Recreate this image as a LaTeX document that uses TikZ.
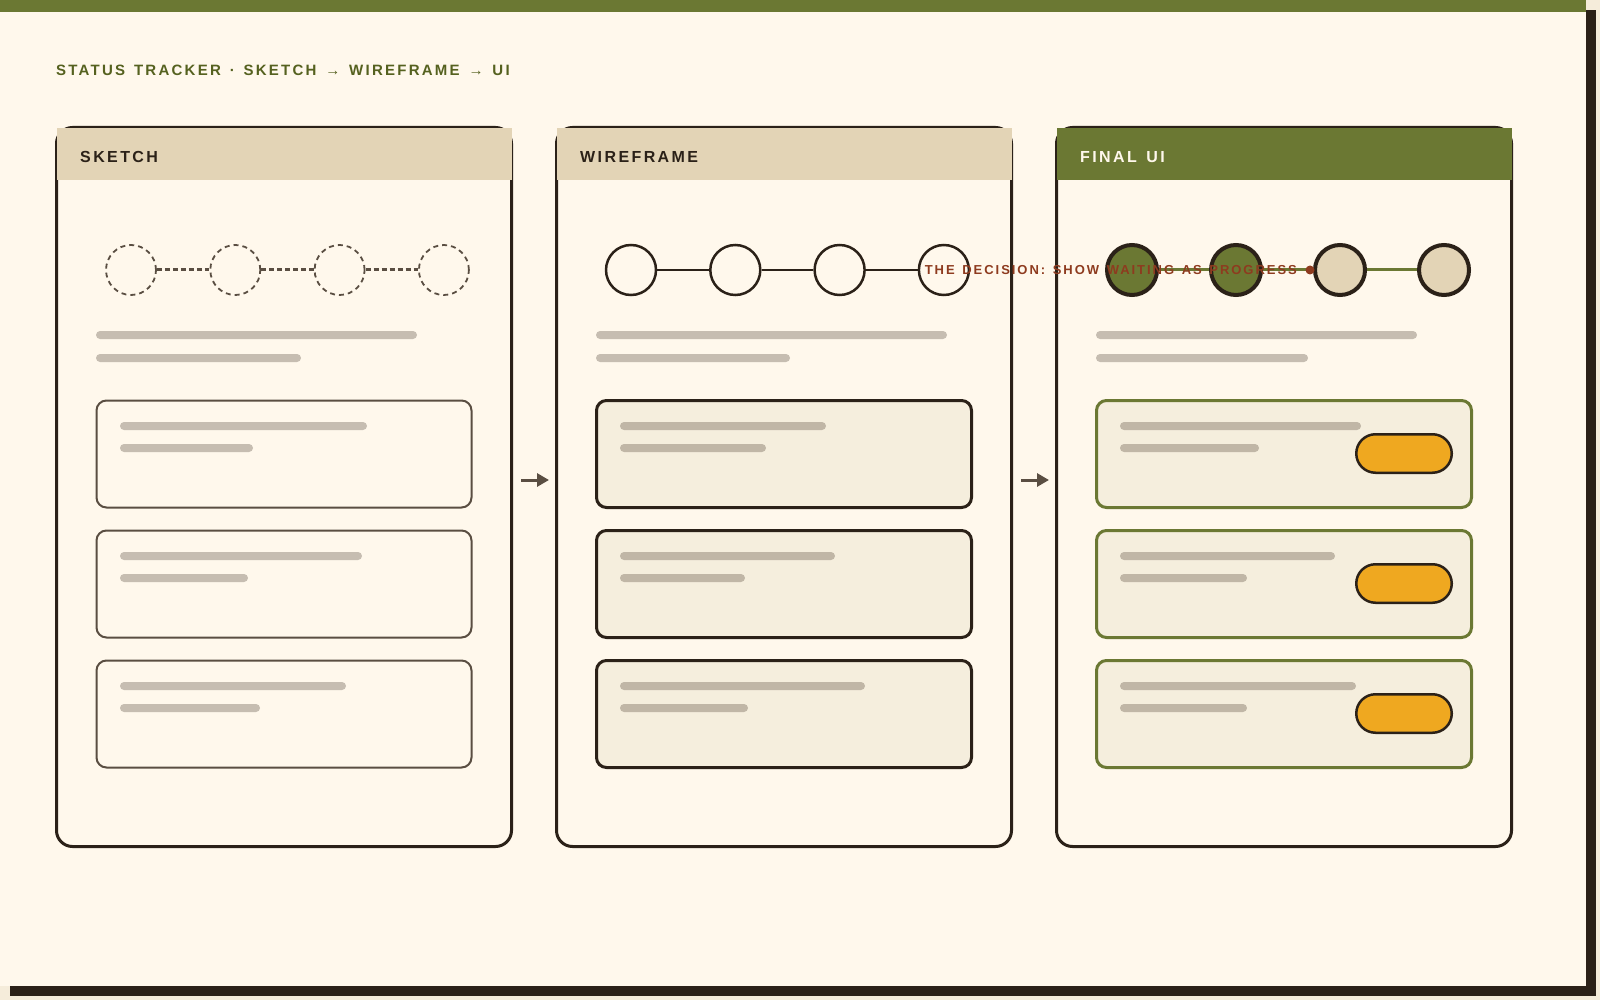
\documentclass[tikz,border=0pt]{standalone}
\usepackage{fontspec}
\setmainfont{Liberation Sans}
\newfontfamily\trackfont[LetterSpace=15, WordSpace=1.38]{Liberation Sans}
\usetikzlibrary{arrows.meta}

\definecolor{outer}{HTML}{F5ECDA}
\definecolor{paper}{HTML}{FFF8EC}
\definecolor{ink}{HTML}{2B2118}
\definecolor{olive}{HTML}{6B7833}
\definecolor{sand}{HTML}{E3D4B6}
\definecolor{pencil}{HTML}{5A4E42}
\definecolor{barc}{HTML}{C6BDB1}
\definecolor{barb}{HTML}{C0B6A6}
\definecolor{boxfill}{HTML}{F5EEDD}
\definecolor{amber}{HTML}{EFA820}
\definecolor{rust}{HTML}{8E3B1F}
\definecolor{titlecol}{HTML}{55611F}

\begin{document}
\begin{tikzpicture}[x=1pt,y=-1pt,
    card/.style={draw=ink, line width=3pt, fill=paper, rounded corners=16pt, outer sep=0pt, minimum width=455pt, minimum height=719pt},
    headtxt/.style={anchor=base west, inner sep=0pt, font=\trackfont\bfseries\fontsize{16}{19}\selectfont, text=ink},
    bar/.style={fill=barc, rounded corners=4pt},
    inbar/.style={fill=barb, rounded corners=4pt},
    skdot/.style={circle, minimum size=50pt, inner sep=0pt, draw=pencil, line width=1.8pt, dash pattern=on 5pt off 4pt},
    wfdot/.style={circle, minimum size=50pt, inner sep=0pt, draw=ink, line width=2.5pt, fill=paper},
    uidot/.style={circle, minimum size=50pt, inner sep=0pt, draw=ink, line width=4pt},
    skbox/.style={draw=pencil, line width=2pt, rounded corners=10pt},
    wfbox/.style={draw=ink, line width=3pt, fill=boxfill, rounded corners=10pt},
    uibox/.style={draw=olive, line width=3pt, fill=boxfill, rounded corners=10pt},
    pill/.style={draw=ink, line width=2.5pt, fill=amber, rounded corners=19.25pt},
    flow/.style={draw=pencil, line width=3pt, -{Triangle[length=12pt,width=13pt]}}]

    \useasboundingbox (0,0) rectangle (1600,1000);
    \fill[outer] (0,0) rectangle (1600,1000);
    \fill[ink] (10,10) rectangle (1596,996);
    \fill[paper] (0,0) rectangle (1586,986);
    \fill[olive] (0,0) rectangle (1586,12);

    \node[anchor=base west, inner sep=0pt, font=\trackfont\bfseries\fontsize{15}{18}\selectfont, text=titlecol] (title) at (56,76) {STATUS TRACKER · SKETCH → WIREFRAME → UI};

    % three cards
    \node[card] (sketch) at (284,487) {};
    \node[card] (wire) at (784,487) {};
    \node[card] (final) at (1284,487) {};

    \fill[sand] ([shift={(0,0.5)}]sketch.north west) rectangle ([shift={(0,52.5)}]sketch.north east);
    \fill[sand] ([shift={(0,0.5)}]wire.north west) rectangle ([shift={(0,52.5)}]wire.north east);
    \fill[olive] ([shift={(0,0.5)}]final.north west) rectangle ([shift={(0,52.5)}]final.north east);

    \node[headtxt] at ([shift={(23.5,35.5)}]sketch.north west) {SKETCH};
    \node[headtxt] at ([shift={(23.5,35.5)}]wire.north west) {WIREFRAME};
    \node[headtxt, text=paper] at ([shift={(23.5,35.5)}]final.north west) {FINAL UI};

    \draw[flow] ([shift={(9.5,-7)}]sketch.east) -- ([shift={(-7.5,-7)}]wire.west);
    \draw[flow] ([shift={(9.5,-7)}]wire.east) -- ([shift={(-7.5,-7)}]final.west);

    % sketch
    \foreach \i in {1,...,4}
        \node[skdot] (s\i) at ({131+104.3*(\i-1)},270) {};
    \draw[pencil, line width=3pt, dash pattern=on 5pt off 3pt] (s1) -- (s2);
    \draw[pencil, line width=3pt, dash pattern=on 5pt off 3pt] (s2) -- (s3);
    \draw[pencil, line width=3pt, dash pattern=on 5pt off 3pt] (s3) -- (s4);
    \fill[bar] (96,331) rectangle +(321,8);
    \fill[bar] (96,354) rectangle +(205,8);
    \draw[skbox] (96.5,400.5) rectangle (471.5,507.5);
    \draw[skbox] (96.5,530.5) rectangle (471.5,637.5);
    \draw[skbox] (96.5,660.5) rectangle (471.5,767.5);
    \fill[bar] (120,422) rectangle +(247,8);
    \fill[bar] (120,444) rectangle +(133,8);
    \fill[bar] (120,552) rectangle +(242,8);
    \fill[bar] (120,574) rectangle +(128,8);
    \fill[bar] (120,682) rectangle +(226,8);
    \fill[bar] (120,704) rectangle +(140,8);

    % wireframe
    \foreach \i in {1,...,4}
        \node[wfdot] (w\i) at ({631+104.3*(\i-1)},270) {};
    \draw[ink, line width=2.8pt] (w1) -- (w2);
    \draw[ink, line width=2.8pt] (w2) -- (w3);
    \draw[ink, line width=2.8pt] (w3) -- (w4);
    \fill[bar] (596,331) rectangle +(351,8);
    \fill[bar] (596,354) rectangle +(194,8);
    \draw[wfbox] (596.5,400.5) rectangle (971.5,507.5);
    \draw[wfbox] (596.5,530.5) rectangle (971.5,637.5);
    \draw[wfbox] (596.5,660.5) rectangle (971.5,767.5);
    \fill[inbar] (620,422) rectangle +(206,8);
    \fill[inbar] (620,444) rectangle +(146,8);
    \fill[inbar] (620,552) rectangle +(215,8);
    \fill[inbar] (620,574) rectangle +(125,8);
    \fill[inbar] (620,682) rectangle +(245,8);
    \fill[inbar] (620,704) rectangle +(128,8);

    % final ui
    \node[uidot, fill=olive] (u1) at (1132,270) {};
    \node[uidot, fill=olive] (u2) at (1236,270) {};
    \node[uidot, fill=sand] (u3) at (1340,270) {};
    \node[uidot, fill=sand] (u4) at (1444,270) {};
    \draw[olive, line width=3pt] (u1) -- (u2);
    \draw[olive, line width=3pt] (u2) -- (u3);
    \draw[olive, line width=3pt] (u3) -- (u4);
    \fill[bar] (1096,331) rectangle +(321,8);
    \fill[bar] (1096,354) rectangle +(212,8);
    \draw[uibox] (1096.5,400.5) rectangle (1471.5,507.5);
    \draw[uibox] (1096.5,530.5) rectangle (1471.5,637.5);
    \draw[uibox] (1096.5,660.5) rectangle (1471.5,767.5);
    \fill[inbar] (1120,422) rectangle +(241,8);
    \fill[inbar] (1120,444) rectangle +(139,8);
    \fill[inbar] (1120,552) rectangle +(215,8);
    \fill[inbar] (1120,574) rectangle +(127,8);
    \fill[inbar] (1120,682) rectangle +(236,8);
    \fill[inbar] (1120,704) rectangle +(127,8);
    \draw[pill] (1356.25,434.25) rectangle (1451.75,472.75);
    \draw[pill] (1356.25,564.25) rectangle (1451.75,602.75);
    \draw[pill] (1356.25,694.25) rectangle (1451.75,732.75);

    \node[circle, fill=rust, minimum size=9pt, inner sep=0pt] (pin) at (1310,270) {};
    \node[anchor=base east, inner sep=0pt, font=\trackfont\bfseries\fontsize{13}{16}\selectfont, text=rust] (decision) at ([shift={(-13,5)}]pin.center) {THE DECISION: SHOW WAITING AS PROGRESS};
\end{tikzpicture}
\end{document}
